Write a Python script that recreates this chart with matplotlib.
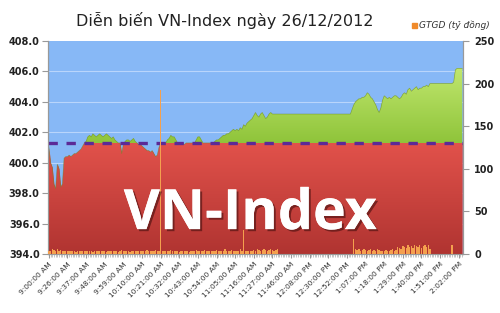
import numpy as np
import matplotlib
matplotlib.use("Agg")
import matplotlib.pyplot as plt
from matplotlib.patches import PathPatch
from matplotlib.colors import LinearSegmentedColormap
import matplotlib.patheffects as pe

# ---------------- data ----------------
title = "Diễn biến VN-Index ngày 26/12/2012"
legend_label = "GTGD (tỷ đồng)"
ref_value = 401.3

tick_labels = ["9:00:00 AM", "9:26:00 AM", "9:37:00 AM", "9:48:00 AM", "9:59:00 AM",
               "10:10:00 AM", "10:21:00 AM", "10:32:00 AM", "10:43:00 AM", "10:54:00 AM",
               "11:05:00 AM", "11:16:00 AM", "11:27:00 AM", "11:46:00 AM", "12:08:00 PM",
               "12:30:00 PM", "12:52:00 PM", "1:07:00 PM", "1:18:00 PM", "1:29:00 PM",
               "1:40:00 PM", "1:51:00 PM", "2:02:00 PM"]

vnindex = [
    401.0, 400.0, 399.7, 398.6, 398.3, 399.9, 399.6, 398.4, 398.6, 400.3, 400.4,
    400.4, 400.5, 400.4, 400.5, 400.6, 400.6, 400.7, 400.8, 400.9, 401.1, 401.3,
    401.4, 401.7, 401.8, 401.7, 401.9, 401.8, 401.7, 401.8, 401.9, 401.8, 401.7,
    401.8, 401.9, 401.8, 401.7, 401.6, 401.7, 401.5, 401.4, 401.3, 401.3, 400.6,
    401.2, 401.4, 401.5, 401.5, 401.4, 401.5, 401.6, 401.4, 401.3, 401.2, 401.2,
    401.1, 401.0, 400.9, 400.8, 400.8, 400.7, 400.8, 400.6, 400.4, 400.5, 401.0,
    401.3, 401.3, 401.3, 401.3, 401.5, 401.6, 401.8, 401.7, 401.7, 401.5, 401.3,
    401.3, 401.3, 401.3, 401.2, 401.3, 401.3, 401.3, 401.3, 401.3, 401.3, 401.5,
    401.7, 401.7, 401.5, 401.3, 401.3, 401.3, 401.3, 401.3, 401.3, 401.3, 401.4,
    401.5, 401.5, 401.6, 401.7, 401.8, 401.8, 401.9, 401.9, 402.0, 402.1, 402.2,
    402.1, 402.2, 402.1, 402.3, 402.2, 402.5, 402.4, 402.6, 402.7, 402.8, 402.9,
    403.1, 403.3, 403.1, 403.0, 403.2, 403.3, 403.1, 402.9, 403.0, 403.2, 403.3,
    403.2, 403.2, 403.2, 403.2, 403.2, 403.2, 403.2, 403.2, 403.2, 403.2, 403.2,
    403.2, 403.2, 403.2, 403.2, 403.2, 403.2, 403.2, 403.2, 403.2, 403.2, 403.2,
    403.2, 403.2, 403.2, 403.2, 403.2, 403.2, 403.2, 403.2, 403.2, 403.2, 403.2,
    403.2, 403.2, 403.2, 403.2, 403.2, 403.2, 403.2, 403.2, 403.2, 403.2, 403.2,
    403.2, 403.2, 403.2, 403.5, 403.8, 404.0, 404.1, 404.2, 404.2, 404.3, 404.3,
    404.4, 404.6, 404.5, 404.3, 404.2, 404.0, 403.8, 403.5, 403.3, 403.6, 404.1,
    404.4, 404.3, 404.2, 404.3, 404.2, 404.3, 404.4, 404.4, 404.3, 404.2, 404.3,
    404.5, 404.6, 404.5, 404.8, 404.9, 404.7, 404.8, 404.9, 405.0, 404.8, 404.9,
    404.9, 405.0, 405.0, 405.1, 405.0, 405.2, 405.2, 405.2, 405.2, 405.2, 405.2,
    405.2, 405.2, 405.2, 405.2, 405.2, 405.2, 405.2, 405.2, 405.3, 406.1, 406.2,
    406.2, 406.2, 406.2,
]

gtgd = [
    3, 4, 6, 5, 3, 6, 4, 5, 3, 4, 3,
    4, 3, 3, 4, 3, 2, 4, 3, 3, 4, 3,
    3, 4, 3, 3, 2, 3, 4, 3, 3, 4, 3,
    3, 2, 4, 3, 3, 4, 3, 3, 2, 4, 5,
    3, 3, 4, 3, 2, 3, 4, 3, 3, 4, 3,
    3, 4, 3, 5, 4, 3, 4, 4, 5, 3, 4,
    192, 4, 3, 3, 4, 3, 5, 3, 3, 4, 3,
    2, 3, 3, 4, 3, 3, 2, 4, 3, 3, 5,
    4, 3, 3, 4, 5, 3, 4, 3, 3, 4, 3,
    5, 4, 3, 3, 4, 6, 3, 3, 4, 5, 3,
    4, 3, 3, 6, 4, 28, 3, 4, 3, 3, 4,
    5, 4, 6, 5, 4, 5, 6, 5, 4, 5, 6,
    5, 4, 5, 6, 0, 0, 0, 0, 0, 0, 0,
    0, 0, 0, 0, 0, 0, 0, 0, 0, 0, 0,
    0, 0, 0, 0, 0, 0, 0, 0, 0, 0, 0,
    0, 0, 0, 0, 0, 0, 0, 0, 0, 0, 0,
    0, 0, 0, 0, 18, 6, 5, 6, 4, 5, 6,
    5, 4, 5, 6, 4, 5, 4, 6, 5, 4, 3,
    4, 5, 4, 3, 5, 6, 4, 5, 8, 7, 6,
    9, 8, 7, 10, 8, 9, 7, 11, 9, 8, 10,
    7, 9, 11, 8, 10, 6, 0, 0, 0, 0, 0,
    0, 0, 0, 0, 0, 0, 0, 10, 0, 0, 0,
    0, 0, 0,
]

# ---------------- figure ----------------
fig = plt.figure(figsize=(5.0, 3.13), dpi=100)
fig.patch.set_facecolor("white")
ax = fig.add_axes([0.096, 0.1885, 0.83, 0.6805])
ax2 = ax.twinx()

x = np.arange(len(vnindex))
idx = np.array(vnindex)
ax.set_xlim(-0.5, len(x) - 0.5)
ax.set_ylim(394, 408)
ax.set_facecolor("#87b8f6")

for yv in [396, 398, 400, 402, 404, 406]:
    ax.axhline(yv, color="#b9d5fb", lw=0.8, zorder=1)

# red area (below reference)
red_top = np.minimum(idx, ref_value)
red = ax.fill_between(x, 394, red_top, color="#d9443f", lw=0, zorder=2)
grad = np.linspace(1, 0, 256).reshape(-1, 1)
cm_red = LinearSegmentedColormap.from_list("r", ["#b03431", "#e2524b"])
im = ax.imshow(grad, extent=[-0.5, len(x) - 0.5, 394, ref_value], aspect="auto",
               cmap=cm_red, origin="upper", zorder=3, vmin=0, vmax=1)
im.set_clip_path(PathPatch(red.get_paths()[0], transform=ax.transData))

# green area (above reference)
green = ax.fill_between(x, ref_value, idx, where=idx > ref_value, interpolate=True,
                        color="#9ccd3c", lw=0, zorder=2)
cm_green = LinearSegmentedColormap.from_list("g", ["#8fc43a", "#c2e870"])
for p in green.get_paths():
    img = ax.imshow(np.linspace(1, 0, 256).reshape(-1, 1), extent=[-0.5, len(x) - 0.5, ref_value, 406.4],
                    aspect="auto", cmap=cm_green, origin="upper", zorder=3, vmin=0, vmax=1)
    img.set_clip_path(PathPatch(p, transform=ax.transData))
ax.plot(x, idx, color="#6e8a2a", lw=0.5, alpha=0.6, zorder=4)

ax.axhline(ref_value, color="#5b2a97", lw=2.4, dashes=(2.8, 2.6), zorder=5)

# bars
ax2.bar(x, gtgd, width=0.8, color="#f4a04e", zorder=3)
ax2.set_ylim(0, 250)
ax2.set_yticks([0, 50, 100, 150, 200, 250])
ax2.set_zorder(ax.get_zorder() + 1)
ax2.patch.set_visible(False)

# ticks
ax.set_yticks([394, 396, 398, 400, 402, 404, 406, 408])
ax.set_yticklabels([f"{v:.1f}" for v in [394, 396, 398, 400, 402, 404, 406, 408]])
ax.set_xticks(np.arange(0, len(x), 11)[:len(tick_labels)])
ax.set_xticklabels(tick_labels, rotation=45, ha="right", rotation_mode="anchor",
                   fontsize=5.4, color="#333333")
ax.set_xticks(x, minor=True)
ax.tick_params(axis="x", which="major", length=3, color="#999999", pad=2)
ax.tick_params(axis="x", which="minor", length=2, color="#999999", width=0.4)
ax.tick_params(axis="y", length=4, color="#999999", labelsize=7, pad=2)
ax2.tick_params(axis="y", length=4, color="#999999", labelsize=7, pad=4)
for lab in ax.get_yticklabels() + ax2.get_yticklabels():
    lab.set_fontweight("bold")
    lab.set_color("#222222")
for a in (ax, ax2):
    a.spines["top"].set_visible(False)
    a.spines["left"].set_color("#999999")
    a.spines["right"].set_color("#999999")
    a.spines["bottom"].set_color("#999999")

# watermark
txt = ax2.text(0.487, 0.185, "VN-Index", transform=ax.transAxes, ha="center", va="center",
               fontsize=40, fontweight="bold", color="white", family="Open Sans", zorder=10)
txt.set_path_effects([pe.withSimplePatchShadow(offset=(1.5, -1.5), shadow_rgbFace="#3a0a0a", alpha=0.55),
                      pe.Normal()])

# title & legend
fig.text(0.45, 0.935, title, ha="center", va="center", fontsize=11.5, color="#222222")
fig.patches.append(plt.Rectangle((0.824, 0.912), 0.009, 0.015, transform=fig.transFigure,
                                 color="#f08a2a", figure=fig))
fig.text(0.838, 0.92, legend_label, ha="left", va="center", fontsize=6.5, style="italic",
         color="#333333")

fig.savefig("out.png", dpi=100)
